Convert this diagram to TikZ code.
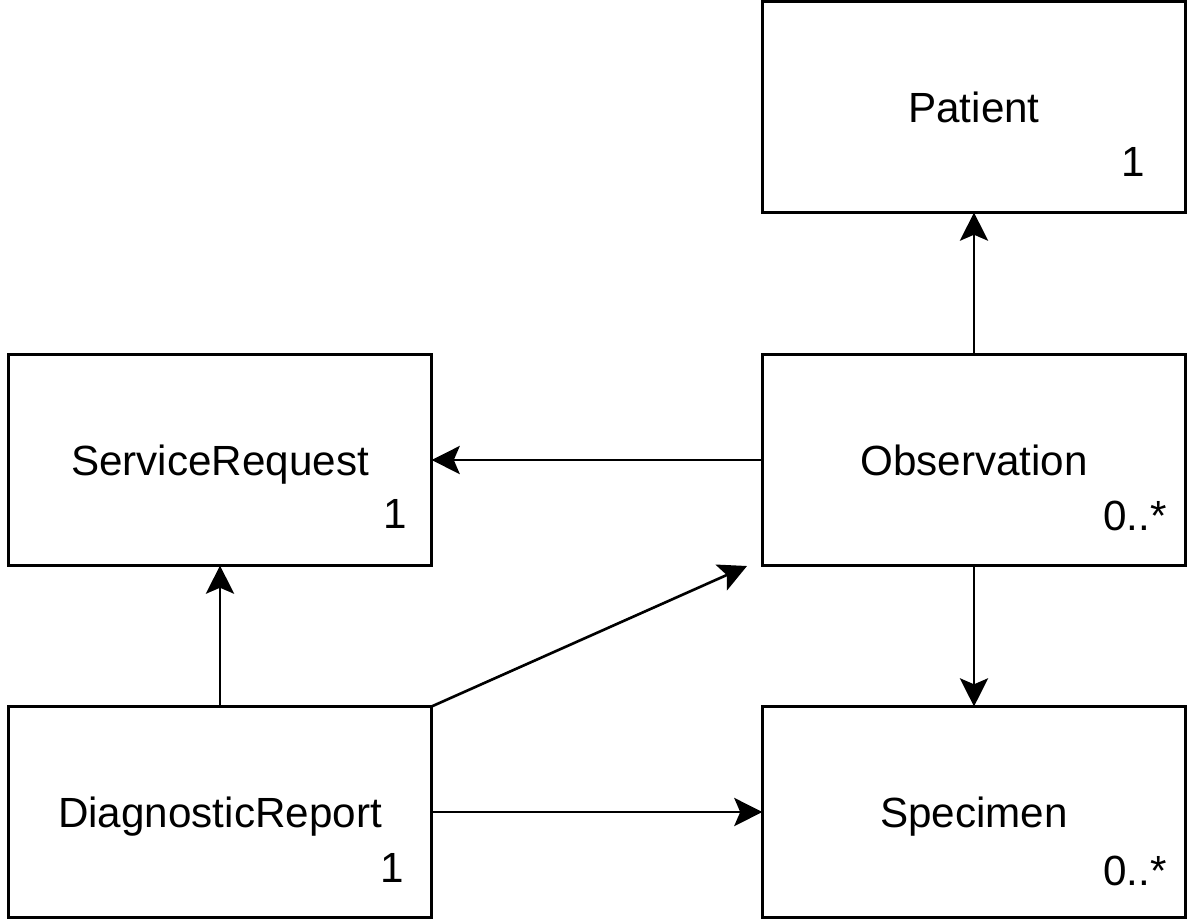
\documentclass[tikz,border=0pt]{standalone}
\usepackage{fontspec}
\setmainfont{Liberation Sans}
\usetikzlibrary{arrows.meta}

\begin{document}
\begin{tikzpicture}[x=0.01cm, y=-0.01cm,
  every node/.style={font=\fontsize{12}{14}\selectfont, outer sep=0pt},
  box/.style={draw, line width=0.75pt, minimum width=4.23cm, minimum height=2.11cm, text height=8.6pt, text depth=0pt, inner sep=0pt},
  mult/.style={anchor=base, inner sep=0pt},
  link/.style={line width=0.75pt, -{Stealth[length=8pt, width=8pt, inset=1.7pt]}}]
\useasboundingbox (0,0) rectangle (1187,920);

\node[box] (patient) at (974,107) {Patient};
\node[box] (observation) at (974,460) {Observation};
\node[box] (specimen) at (974,812) {Specimen};
\node[box] (servicerequest) at (220,460) {ServiceRequest};
\node[box] (diagnosticreport) at (220,812) {DiagnosticReport};

\node[mult] (patientmult) at (1133,176) {1};
\node[mult] (servicerequestmult) at (395,528) {1};
\node[mult] (observationmult) at (1135,530) {0..*};
\node[mult] (diagnosticreportmult) at (392,882) {1};
\node[mult] (specimenmult) at (1135,885) {0..*};

\coordinate (diagend) at (747,566);

\draw[link] (observation) -- (patient);
\draw[link] (observation) -- (servicerequest);
\draw[link] (diagnosticreport) -- (servicerequest);
\draw[link] (diagnosticreport.north east) -- (diagend);
\draw[link] (diagnosticreport) -- (specimen);
\draw[link] (observation) -- (specimen);
\end{tikzpicture}
\end{document}
